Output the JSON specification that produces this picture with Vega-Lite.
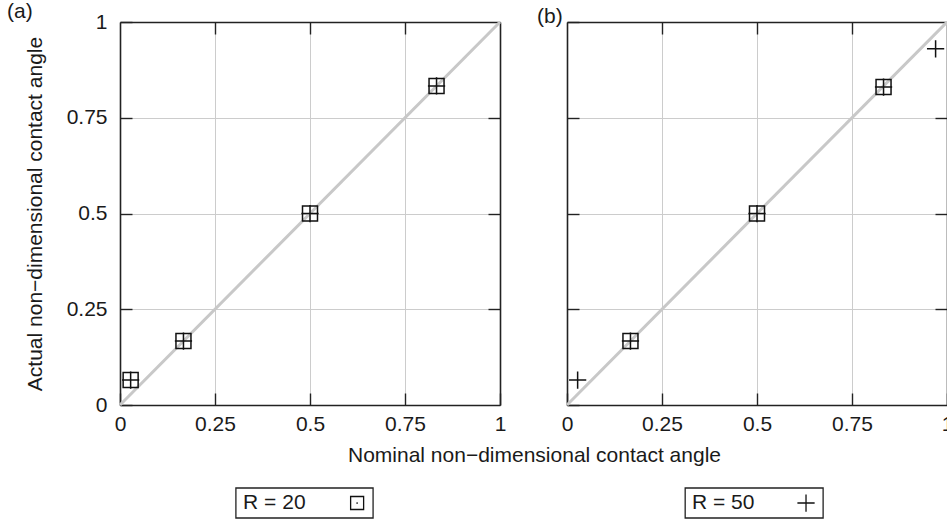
{
  "$schema": "https://vega.github.io/schema/vega-lite/v6.json",
  "padding": {"left": 7, "top": 1, "right": 0, "bottom": 0},
  "autosize": {"type": "pad"},
  "background": "white",
  "config": {
    "font": "Liberation Sans",
    "view": {"stroke": null},
    "axis": {
      "labelFont": "Liberation Sans", "titleFont": "Liberation Sans",
      "labelFontSize": 21, "titleFontSize": 21,
      "labelColor": "#1a1a1a", "titleColor": "#1a1a1a", "titleFontWeight": "normal",
      "domainColor": "#222", "domainWidth": 1.6,
      "tickColor": "#222", "tickWidth": 1.4, "tickSize": -12,
      "gridColor": "#cccccc", "gridWidth": 1,
      "labelFlush": false, "labelOverlap": false
    },
    "title": {"font": "Liberation Sans", "fontSize": 21, "fontWeight": "normal", "anchor": "start", "frame": "group", "color": "#1a1a1a"}
  },
  "datasets": {
    "pts": [
      {"panel": "a", "series": "R = 20", "nominal": 0.028, "actual": 0.065},
      {"panel": "a", "series": "R = 20", "nominal": 0.167, "actual": 0.167},
      {"panel": "a", "series": "R = 20", "nominal": 0.5, "actual": 0.5},
      {"panel": "a", "series": "R = 20", "nominal": 0.833, "actual": 0.833},
      {"panel": "a", "series": "R = 50", "nominal": 0.028, "actual": 0.065},
      {"panel": "a", "series": "R = 50", "nominal": 0.167, "actual": 0.167},
      {"panel": "a", "series": "R = 50", "nominal": 0.5, "actual": 0.5},
      {"panel": "a", "series": "R = 50", "nominal": 0.833, "actual": 0.833},
      {"panel": "b", "series": "R = 20", "nominal": 0.167, "actual": 0.167},
      {"panel": "b", "series": "R = 20", "nominal": 0.5, "actual": 0.5},
      {"panel": "b", "series": "R = 20", "nominal": 0.833, "actual": 0.83},
      {"panel": "b", "series": "R = 50", "nominal": 0.028, "actual": 0.065},
      {"panel": "b", "series": "R = 50", "nominal": 0.167, "actual": 0.167},
      {"panel": "b", "series": "R = 50", "nominal": 0.5, "actual": 0.5},
      {"panel": "b", "series": "R = 50", "nominal": 0.833, "actual": 0.83},
      {"panel": "b", "series": "R = 50", "nominal": 0.97, "actual": 0.93}
    ],
    "diag": [{"nominal": 0, "actual": 0}, {"nominal": 1, "actual": 1}],
    "leg": [{"panel": "a", "series": "R = 20"}, {"panel": "b", "series": "R = 50"}]
  },
  "bounds": "flush",
  "spacing": {"row": 83, "column": 67},
  "columns": 2,
  "concat": [
    {
      "width": 380, "height": 383,
      "title": {"text": "(a)", "dx": -113, "offset": -11},
      "layer": [
        {
          "data": {"name": "diag"},
          "mark": {"type": "line", "color": "#c8c8c8", "strokeWidth": 3},
          "encoding": {
            "x": {"field": "nominal", "type": "quantitative", "scale": {"domain": [0, 1], "nice": false, "zero": false},
              "axis": {"orient": "bottom", "values": [0, 0.25, 0.5, 0.75, 1], "labelExpr": "'' + datum.value", "grid": true, "labelPadding": 20,
                "title": "Nominal non−dimensional contact angle", "titleX": 414, "titleY": 50, "titleAlign": "center", "titleBaseline": "middle"}},
            "y": {"field": "actual", "type": "quantitative", "scale": {"domain": [0, 1], "nice": false, "zero": false},
              "axis": {"orient": "left", "values": [0, 0.25, 0.5, 0.75, 1], "labelExpr": "'' + datum.value", "grid": true, "labelPadding": 25,
                "title": "Actual non−dimensional contact angle", "titlePadding": 21}}
          }
        },
        {
          "data": {"name": "pts"},
          "transform": [{"filter": "datum.panel === 'a'"}],
          "mark": {"type": "point", "filled": false, "color": "#111", "strokeWidth": 1.5, "opacity": 1},
          "encoding": {
            "x": {"field": "nominal", "type": "quantitative", "axis": {"orient": "top", "values": [0.25, 0.5, 0.75], "labels": false, "grid": false, "title": null}},
            "y": {"field": "actual", "type": "quantitative", "axis": {"orient": "right", "values": [0.25, 0.5, 0.75], "labels": false, "grid": false, "title": null}},
            "shape": {"field": "series", "type": "nominal", "scale": {"domain": ["R = 20", "R = 50"], "range": ["M-1,-1H1V1H-1Z", "M-1.15,0H1.15M0,-1.15V1.15"]}, "legend": null},
            "size": {"value": 225}
          }
        }
      ],
      "resolve": {"axis": {"x": "independent", "y": "independent"}}
    },
    {
      "width": 380, "height": 383,
      "title": {"text": "(b)", "dx": -30, "offset": -11},
      "layer": [
        {
          "data": {"name": "diag"},
          "mark": {"type": "line", "color": "#c8c8c8", "strokeWidth": 3},
          "encoding": {
            "x": {"field": "nominal", "type": "quantitative", "scale": {"domain": [0, 1], "nice": false, "zero": false},
              "axis": {"orient": "bottom", "values": [0, 0.25, 0.5, 0.75, 1], "labelExpr": "'' + datum.value", "grid": true, "labelPadding": 20, "title": null}},
            "y": {"field": "actual", "type": "quantitative", "scale": {"domain": [0, 1], "nice": false, "zero": false},
              "axis": {"orient": "left", "values": [0, 0.25, 0.5, 0.75, 1], "labels": false, "grid": true, "title": null}}
          }
        },
        {
          "data": {"name": "pts"},
          "transform": [{"filter": "datum.panel === 'b'"}],
          "mark": {"type": "point", "filled": false, "color": "#111", "strokeWidth": 1.5, "opacity": 1},
          "encoding": {
            "x": {"field": "nominal", "type": "quantitative", "axis": {"orient": "top", "values": [0.25, 0.5, 0.75], "labels": false, "grid": false, "title": null}},
            "y": {"field": "actual", "type": "quantitative", "axis": {"orient": "right", "values": [0.25, 0.5, 0.75], "labels": false, "grid": false, "title": null}},
            "shape": {"field": "series", "type": "nominal", "scale": {"domain": ["R = 20", "R = 50"], "range": ["M-1,-1H1V1H-1Z", "M-1.15,0H1.15M0,-1.15V1.15"]}, "legend": null},
            "size": {"value": 225}
          }
        }
      ],
      "resolve": {"axis": {"x": "independent", "y": "independent"}}
    },
    {
      "width": 380, "height": 30,
      "data": {"name": "leg"},
      "transform": [{"filter": "datum.panel === 'a'"}],
      "layer": [
        {
          "mark": {"type": "rect", "fill": null, "fillOpacity": 0, "stroke": "#222", "strokeWidth": 1.3},
          "encoding": {
            "x": {"datum": 0.305, "type": "quantitative", "scale": {"domain": [0, 1]}, "axis": null},
            "x2": {"datum": 0.666},
            "y": {"datum": 0, "type": "quantitative", "scale": {"domain": [0, 1]}, "axis": null},
            "y2": {"datum": 1}
          }
        },
        {
          "mark": {"type": "text", "align": "left", "baseline": "middle", "fontSize": 21, "font": "Liberation Sans", "color": "#1a1a1a"},
          "encoding": {
            "x": {"datum": 0.324, "type": "quantitative"},
            "y": {"datum": 0.5, "type": "quantitative"},
            "text": {"field": "series"}
          }
        },
        {
          "mark": {"type": "point", "filled": false, "color": "#111", "strokeWidth": 1.3, "opacity": 1},
          "encoding": {
            "x": {"datum": 0.624, "type": "quantitative"},
            "y": {"datum": 0.5, "type": "quantitative"},
            "shape": {"field": "series", "type": "nominal", "scale": {"domain": ["R = 20", "R = 50"], "range": ["M-1,-1H1V1H-1Z", "M-1.15,0H1.15M0,-1.15V1.15"]}, "legend": null},
            "size": {"value": 169}
          }
        },
        {
          "mark": {"type": "point", "filled": true, "color": "#111", "opacity": 1},
          "encoding": {
            "x": {"datum": 0.624, "type": "quantitative"},
            "y": {"datum": 0.5, "type": "quantitative"},
            "size": {"value": 3}
          }
        }
      ]
    },
    {
      "width": 380, "height": 30,
      "data": {"name": "leg"},
      "transform": [{"filter": "datum.panel === 'b'"}],
      "layer": [
        {
          "mark": {"type": "rect", "fill": null, "fillOpacity": 0, "stroke": "#222", "strokeWidth": 1.3},
          "encoding": {
            "x": {"datum": 0.311, "type": "quantitative", "scale": {"domain": [0, 1]}, "axis": null},
            "x2": {"datum": 0.674},
            "y": {"datum": 0, "type": "quantitative", "scale": {"domain": [0, 1]}, "axis": null},
            "y2": {"datum": 1}
          }
        },
        {
          "mark": {"type": "text", "align": "left", "baseline": "middle", "fontSize": 21, "font": "Liberation Sans", "color": "#1a1a1a"},
          "encoding": {
            "x": {"datum": 0.329, "type": "quantitative"},
            "y": {"datum": 0.5, "type": "quantitative"},
            "text": {"field": "series"}
          }
        },
        {
          "mark": {"type": "point", "filled": false, "color": "#111", "strokeWidth": 1.3, "opacity": 1},
          "encoding": {
            "x": {"datum": 0.629, "type": "quantitative"},
            "y": {"datum": 0.5, "type": "quantitative"},
            "shape": {"field": "series", "type": "nominal", "scale": {"domain": ["R = 20", "R = 50"], "range": ["M-1,-1H1V1H-1Z", "M-1.15,0H1.15M0,-1.15V1.15"]}, "legend": null},
            "size": {"value": 225}
          }
        }
      ]
    }
  ]
}
